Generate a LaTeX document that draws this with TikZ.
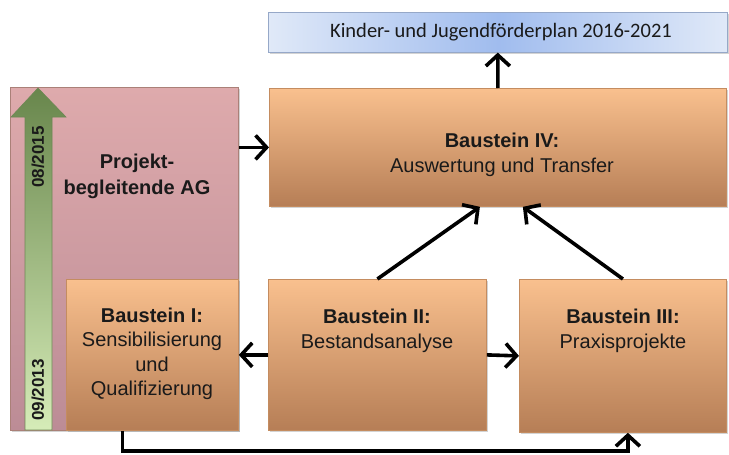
\documentclass[tikz,border=0pt]{standalone}
\usepackage{fontspec}
\setmainfont{Liberation Sans}
\newfontfamily\calib{Carlito}
\usetikzlibrary{arrows.meta,shadows,calc}
\definecolor{orTop}{RGB}{249,192,142}
\definecolor{orBot}{RGB}{182,126,86}
\definecolor{orEdge}{RGB}{196,140,96}
\definecolor{pkTop}{RGB}{222,170,172}
\definecolor{pkBot}{RGB}{188,140,150}
\definecolor{pkEdge}{RGB}{170,128,120}
\definecolor{grTop}{RGB}{104,134,76}
\definecolor{grBot}{RGB}{214,236,184}
\definecolor{grEdge}{RGB}{110,135,85}
\definecolor{blEdge}{RGB}{150,168,200}
\definecolor{blMid}{RGB}{160,188,238}
\definecolor{blSide}{RGB}{224,233,248}
\definecolor{txt}{RGB}{26,26,26}
\tikzset{
  x=1pt,y=-1pt,
  bigfont/.style={font=\fontsize{20}{24.5}\selectfont, text=txt, align=center},
  datefont/.style={font=\bfseries\fontsize{17}{20}\selectfont, text=txt, rotate=90},
  orbox/.style={draw=orEdge, line width=0.8pt, top color=orTop, bottom color=orBot, anchor=north west, inner sep=0pt,
     drop shadow={opacity=0.35, shadow xshift=2pt, shadow yshift=-2pt}},
  conn/.style={line width=3.6pt, black, -{Straight Barb[length=11pt,width=24pt]}}
}
\begin{document}
\begin{tikzpicture}
\useasboundingbox (0,0) rectangle (729,455);
% top box
\node[draw=blEdge, line width=0.6pt, left color=blSide, right color=blSide, middle color=blMid, anchor=north west,
      minimum width=459pt, minimum height=40pt, inner sep=0pt,
      drop shadow={opacity=0.35, shadow xshift=1.5pt, shadow yshift=-2pt}] (top) at (268,12) {};
\node[font=\calib\fontsize{20.5}{23}\selectfont, text=txt] (toptxt) at (501,32) {Kinder- und Jugendförderplan 2016-2021};
% pink box
\node[draw=pkEdge, line width=0.8pt, top color=pkTop, bottom color=pkBot, anchor=north west,
      minimum width=228pt, minimum height=343pt, inner sep=0pt,
      drop shadow={opacity=0.35, shadow xshift=2pt, shadow yshift=-2pt}] (pink) at (10,87) {};
\node[bigfont, font=\bfseries\fontsize{20}{26}\selectfont] (pinktxt) at (137,176) {Projekt-\\begleitende AG};
% boxes
\node[orbox, minimum width=457pt, minimum height=118pt] (b4) at (269,88) {};
\node[orbox, minimum width=172pt, minimum height=151pt] (b1) at (66,279) {};
\node[orbox, minimum width=218pt, minimum height=151pt] (b2) at (268,279) {};
\node[orbox, minimum width=207pt, minimum height=153pt] (b3) at (519,279) {};
% green time arrow
\shade[bottom color=grBot, top color=grTop, draw=grEdge, line width=0.6pt]
  (25,430) -- (25,117) -- (11,117) -- (38,88) -- (66,117) -- (52,117) -- (52,430) -- cycle;
\node[datefont] (d1) at (38,157) {08/2015};
\node[datefont] (d2) at (38,390) {09/2013};
% texts
\node[bigfont] (t4) at (502,155) {\textbf{Baustein IV:}\\Auswertung und Transfer};
\node[bigfont] (t1) at (152,354) {\textbf{Baustein I:}\\Sensibilisierung\\und\\Qualifizierung};
\node[bigfont] (t2) at (377,331) {\textbf{Baustein II:}\\Bestandsanalyse};
\node[bigfont] (t3) at (623,331) {\textbf{Baustein III:}\\Praxisprojekte};
% connectors
\draw[conn] (b4.north) -- (top.south);
\draw[conn] (b4.west -| pink.east) -- (b4.west);
\draw[conn] (b2.west) -- (b1.east);
\draw[conn] (b2.east) -- (b3.west);
\draw[conn] (b2.north) -- ([xshift=-18pt]b4.south);
\draw[conn] (b3.north) -- ([xshift=25pt]b4.south);
\draw[conn] ([xshift=-30pt]b1.south) -- ++(0,20) -| ([xshift=5pt]b3.south);
\end{tikzpicture}
\end{document}
